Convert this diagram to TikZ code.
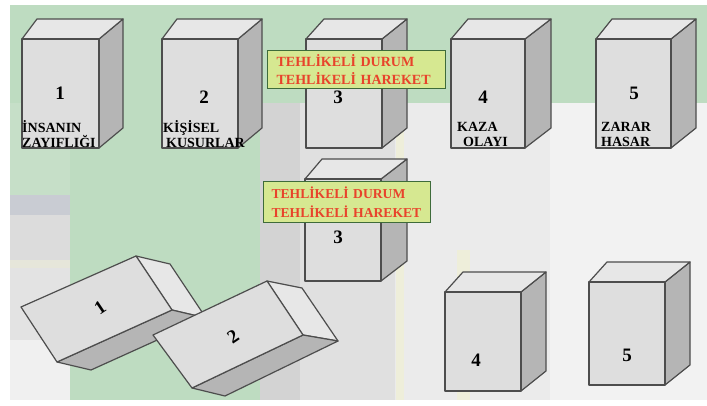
\documentclass[tikz,border=0pt]{standalone}
\usepackage{fontspec}
\setmainfont{Liberation Serif}
\definecolor{bggreen}{HTML}{BEDCC1}
\definecolor{bggreenl}{HTML}{C6DFC8}
\definecolor{bgright}{HTML}{F2F2F2}
\definecolor{bgmidb}{HTML}{EBEBEB}
\definecolor{bgmid}{HTML}{E0E0E0}
\definecolor{bgdark}{HTML}{D3D3D3}
\definecolor{stripea}{HTML}{C9CCD3}
\definecolor{stripeb}{HTML}{DCDCDC}
\definecolor{stripec}{HTML}{E6E6DA}
\definecolor{striped}{HTML}{E3E3E3}
\definecolor{stripee}{HTML}{F0F0F0}
\definecolor{yellowstripe}{HTML}{EEEEDA}
\definecolor{face}{HTML}{DEDEDE}
\definecolor{topface}{HTML}{E7E7E7}
\definecolor{side}{HTML}{B5B5B5}
\definecolor{edgecol}{HTML}{4D4D4D}
\definecolor{tagfill}{HTML}{D6E891}
\definecolor{tagedge}{HTML}{3E6B3A}
\definecolor{tagtext}{HTML}{E8432B}
\newcommand\ubox[7]{% x1 y1 x2 y2 backleft backright depth
  \filldraw[boxedge, fill=side] (#3,#2) -- (#6,#2-#7) -- (#6,#4-#7) -- (#3,#4) -- cycle;
  \filldraw[boxedge, fill=topface] (#1,#2) -- (#5,#2-#7) -- (#6,#2-#7) -- (#3,#2) -- cycle;
  \filldraw[boxedge, fill=face] (#1,#2) rectangle (#3,#4);
}
\begin{document}
\begin{tikzpicture}[x=1pt,y=-1pt,
  boxedge/.style={draw=edgecol, line width=1.2pt, line join=round},
  num/.style={font=\fontsize{19}{19}\selectfont\bfseries, inner sep=0pt, text=black},
  lbl/.style={font=\fontsize{14}{15}\selectfont\bfseries, inner sep=0pt, align=left, anchor=west, text=black},
  tagbox/.style={draw=tagedge, line width=1.2pt, fill=tagfill, text=tagtext,
    font=\fontsize{14}{18}\selectfont\bfseries, align=left, inner xsep=9pt, inner ysep=0pt,
    anchor=north west}]
\useasboundingbox (0,0) rectangle (707,406);
% background
\fill[white] (0,0) rectangle (707,406);
\fill[bgright] (10,5) rectangle (707,400);
\fill[bgmidb] (395,103) rectangle (550,400);
\fill[yellowstripe] (396,103) rectangle (404,400);
\fill[yellowstripe] (457,250) rectangle (470,400);
\fill[bgmid] (300,103) rectangle (395,400);
\fill[bgdark] (260,103) rectangle (300,400);
\fill[bggreen] (10,5) rectangle (707,103);
\fill[bggreen] (70,103) rectangle (260,400);
\fill[bggreenl] (10,103) rectangle (70,195);
\fill[stripea] (10,195) rectangle (70,215);
\fill[stripeb] (10,215) rectangle (70,260);
\fill[stripec] (10,260) rectangle (70,268);
\fill[striped] (10,268) rectangle (70,340);
\fill[stripee] (10,340) rectangle (70,400);
% top row
\ubox{22}{39}{99}{148}{37}{123}{20}
\ubox{162}{39}{238}{148}{177}{262}{20}
\ubox{306}{39}{382}{148}{324}{407}{20}
\ubox{451}{39}{525}{148}{468}{551}{20}
\ubox{596}{39}{671}{148}{612}{696}{20}
\node[tagbox, text width=160pt, minimum height=38pt] (tagtop) at (267,50) {TEHLİKELİ DURUM\\TEHLİKELİ HAREKET};
% middle box 3
\ubox{305}{179}{381}{281}{322}{407}{20}
\node[tagbox, text width=151pt, minimum height=41pt, font=\fontsize{13.6}{19}\selectfont\bfseries, inner xsep=8pt] (tagmid) at (263,181) {TEHLİKELİ DURUM\\TEHLİKELİ HAREKET};
% tilted box 1
\filldraw[boxedge, fill=topface] (136,256) -- (170,264) -- (206,318) -- (172,310) -- cycle;
\filldraw[boxedge, fill=side] (57,362) -- (91,370) -- (206,318) -- (172,310) -- cycle;
\filldraw[boxedge, fill=face] (21,307) -- (136,256) -- (172,310) -- (57,362) -- cycle;
% tilted box 2
\filldraw[boxedge, fill=topface] (267,281) -- (302,288) -- (338,341) -- (303,335) -- cycle;
\filldraw[boxedge, fill=side] (192,388) -- (225,396) -- (338,341) -- (303,335) -- cycle;
\filldraw[boxedge, fill=face] (153,335) -- (267,281) -- (303,335) -- (192,388) -- cycle;
% bottom boxes
\ubox{445}{292}{521}{391}{463}{546}{20}
\ubox{589}{282}{665}{385}{607}{690}{20}
% numbers
\node[num] (n1) at (60,93) {1};
\node[num] (n2) at (204,97) {2};
\node[num] (n3) at (338,97) {3};
\node[num] (n4) at (483,97) {4};
\node[num] (n5) at (634,93) {5};
\node[num] (m3) at (338,237) {3};
\node[num, rotate=34] (t1) at (100,308) {1};
\node[num, rotate=34] (t2) at (233,337) {2};
\node[num] (b4) at (476,360) {4};
\node[num] (b5) at (627,355) {5};
% labels
\node[lbl] (l1) at (22,134.5) {İNSANIN\\ZAYIFLIĞI};
\node[lbl] (l2) at (163,134.5) {KİŞİSEL\\\hspace*{3pt}KUSURLAR};
\node[lbl] (l4) at (457,134.5) {KAZA\\\hspace*{6pt}OLAYI};
\node[lbl] (l5) at (601,134.5) {ZARAR\\HASAR};
\end{tikzpicture}
\end{document}
